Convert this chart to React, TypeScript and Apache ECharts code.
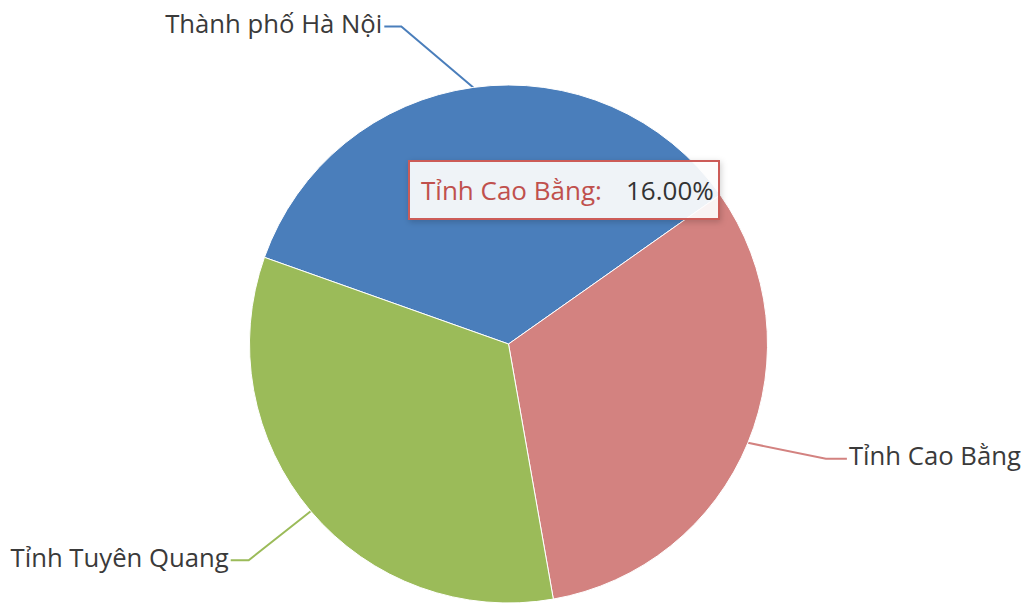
import React, { useEffect, useRef } from 'react';
import * as echarts from 'echarts';

const categories = ['Thành phố Hà Nội', 'Tỉnh Cao Bằng', 'Tỉnh Tuyên Quang'];
const shares = [34.8, 32.0, 33.2];
const sliceColors = ['#4A7EBB', '#D38280', '#9BBB59'];
const tooltipCategory = 'Tỉnh Cao Bằng';
const tooltipValue = '16.00%';

const FONT = '"Open Sans", "Noto Sans", sans-serif';

// connector styling: bend offset from slice edge and horizontal run
const connectorStyle = [
  { dx: -72, dy: -61, run: 17 },
  { dx: 78, dy: 16, run: 21 },
  { dx: -62, dy: 49, run: 18 },
];

export default function App() {
  const ref = useRef<HTMLDivElement>(null);
  useEffect(() => {
    if (!ref.current) return;
    const chart = echarts.init(ref.current, undefined, { renderer: 'svg' });
    chart.setOption({
      animation: false,
      backgroundColor: '#ffffff',
      series: [
        {
          type: 'pie',
          center: [508.5, 344],
          radius: 259,
          startAngle: 160.45,
          clockwise: true,
          avoidLabelOverlap: false,
          itemStyle: { borderColor: '#ffffff', borderWidth: 1 },
          label: {
            show: true,
            position: 'outside',
            formatter: '{b}',
            color: '#3a3a3a',
            fontSize: 25.7,
            fontFamily: FONT,
          },
          labelLine: { show: true, length: 60, length2: 20, smooth: false, lineStyle: { width: 2 } },
          labelLayout: (params: any) => {
            const pts = params.labelLinePoints;
            if (!pts) return {};
            const g = connectorStyle[params.dataIndex];
            const p0 = pts[0];
            const p1 = [p0[0] + g.dx, p0[1] + g.dy];
            const side = g.dx < 0 ? -1 : 1;
            const p2 = [p1[0] + side * g.run, p1[1]];
            return {
              x: p2[0] + side * 2,
              y: p2[1] - 3,
              align: side < 0 ? 'right' : 'left',
              verticalAlign: 'middle',
              labelLinePoints: [p0, p1, p2],
            };
          },
          emphasis: { disabled: true },
          data: categories.map((name, i) => ({
            name,
            value: shares[i],
            itemStyle: { color: sliceColors[i] },
            labelLine: { lineStyle: { color: sliceColors[i] } },
          })),
        },
      ],
      graphic: [
        {
          type: 'group',
          left: 408,
          top: 160,
          z: 100,
          children: [
            {
              type: 'rect',
              z: 100,
              shape: { x: 0, y: 0, width: 310, height: 58 },
              style: {
                fill: 'rgba(255,255,255,0.9)',
                stroke: '#CC5B58',
                lineWidth: 2,
                shadowBlur: 6,
                shadowOffsetX: 1,
                shadowOffsetY: 2,
                shadowColor: 'rgba(0,0,0,0.2)',
              },
            },
            {
              type: 'text',
              z: 101,
              x: 12,
              y: 29,
              style: {
                text: tooltipCategory + ':',
                fill: '#C0504D',
                fontSize: 26,
                fontFamily: FONT,
                verticalAlign: 'middle',
              },
            },
            {
              type: 'text',
              z: 101,
              x: 217,
              y: 29,
              style: {
                text: tooltipValue,
                fill: '#333333',
                fontSize: 26,
                fontFamily: FONT,
                verticalAlign: 'middle',
              },
            },
          ],
        },
      ],
    });
    return () => chart.dispose();
  }, []);
  return (
    <div
      ref={ref}
      style={{ position: 'fixed', left: 0, top: 0, width: '1026px', height: '603px' }}
    />
  );
}
